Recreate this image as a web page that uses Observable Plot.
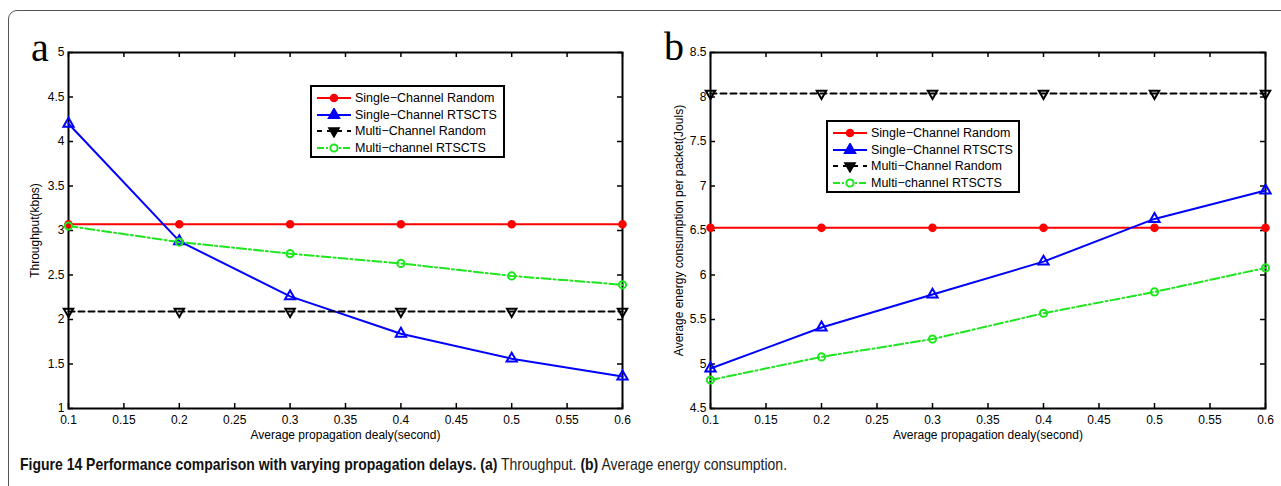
<!DOCTYPE html>
<html>
<head>
<meta charset="utf-8">
<script src="https://cdn.jsdelivr.net/npm/d3@7"></script>
<script src="https://cdn.jsdelivr.net/npm/@observablehq/plot@0.6"></script>
<style>
  html, body { margin: 0; padding: 0; background: #fff; }
  body { width: 1281px; height: 486px; position: relative; overflow: hidden; font-family: "Liberation Sans", Arial, sans-serif; }
  .border { position: absolute; left: 8px; top: 10px; width: 1300px; height: 520px; border: 1px solid #555; border-radius: 9px; box-sizing: border-box; }
  .panel { position: absolute; top: 0; }
  .letter { position: absolute; font-family: "Liberation Serif", "DejaVu Serif", serif; font-size: 40px; line-height: 1; color: #000; }
  .legend { position: absolute; background: #fff; border: 2px solid #000; box-sizing: border-box; }
  .legend .row { position: absolute; left: 4px; height: 16px; display: flex; align-items: center; font-size: 12.5px; white-space: nowrap; color: #000; }
  .legend svg { display: block; margin-right: 3px; }
  .caption { position: absolute; left: 20px; top: 455px; font-family: "Liberation Sans", Arial, sans-serif; font-size: 16.5px; color: #222; white-space: nowrap; transform: scaleX(0.848); transform-origin: 0 50%; }
  .caption b { font-weight: bold; color: #111; }
</style>
</head>
<body>
<div class="border"></div>
<div id="left" class="panel" style="left:0px"></div>
<div id="right" class="panel" style="left:640px"></div>
<div class="letter" style="left:31px; top:28px">a</div>
<div class="letter" style="left:664px; top:27px">b</div>
<div id="legL" class="legend" style="left:310px; top:85px; width:195px; height:73px"></div>
<div id="legR" class="legend" style="left:826px; top:120px; width:194px; height:73px"></div>
<div class="caption"><b>Figure 14 Performance comparison with varying propagation delays. (a)</b> Throughput. <b>(b)</b> Average energy consumption.</div>
<script>
// ---------- data ----------
const delays = [0.1, 0.2, 0.3, 0.4, 0.5, 0.6];
const seriesNames = ["Single−Channel Random", "Single−Channel RTSCTS", "Multi−Channel Random", "Multi−channel RTSCTS"];

// Panel a: Throughput (kbps)
const thrSingleRandom = [3.07, 3.07, 3.07, 3.07, 3.07, 3.07];
const thrSingleRTSCTS = [4.20, 2.88, 2.26, 1.84, 1.56, 1.36];
const thrMultiRandom  = [2.09, 2.09, 2.09, 2.09, 2.09, 2.09];
const thrMultiRTSCTS  = [3.05, 2.87, 2.74, 2.63, 2.49, 2.39];

// Panel b: Average energy consumption per packet (Jouls)
const enSingleRandom = [6.53, 6.53, 6.53, 6.53, 6.53, 6.53];
const enSingleRTSCTS = [4.95, 5.41, 5.78, 6.15, 6.63, 6.95];
const enMultiRandom  = [8.04, 8.04, 8.04, 8.04, 8.04, 8.04];
const enMultiRTSCTS  = [4.82, 5.08, 5.28, 5.57, 5.81, 6.08];

// ticks
const xTicks = [0.1, 0.15, 0.2, 0.25, 0.3, 0.35, 0.4, 0.45, 0.5, 0.55, 0.6];
const xTickLabels = ["0.1", "0.15", "0.2", "0.25", "0.3", "0.35", "0.4", "0.45", "0.5", "0.55", "0.6"];
const yTicksA = [1, 1.5, 2, 2.5, 3, 3.5, 4, 4.5, 5];
const yTickLabelsA = ["1", "1.5", "2", "2.5", "3", "3.5", "4", "4.5", "5"];
const yTicksB = [4.5, 5, 5.5, 6, 6.5, 7, 7.5, 8, 8.5];
const yTickLabelsB = ["4.5", "5", "5.5", "6", "6.5", "7", "7.5", "8", "8.5"];

const xLabel = "Average propagation dealy(second)";
const yLabelA = "Throughput(kbps)";
const yLabelB = "Average energy consumption per packet(Jouls)";

// ---------- styles ----------
const RED = "#ff0000", BLUE = "#0000ff", BLACK = "#000000", GREEN = "#1ee61e";
const downTriangle = {
  draw(context, size) {
    const y = Math.sqrt(size / (Math.sqrt(3) * 3));
    context.moveTo(0, y * 2);
    context.lineTo(-Math.sqrt(3) * y, -y);
    context.lineTo(Math.sqrt(3) * y, -y);
    context.closePath();
  }
};
const styles = [
  {stroke: RED, dash: null, symbol: "circle", fill: RED, legendFill: RED, r: 3.3},
  {stroke: BLUE, dash: null, symbol: "triangle", fill: "none", legendFill: BLUE, r: 3.8},
  {stroke: BLACK, dash: "6,4", symbol: downTriangle, fill: "none", legendFill: BLACK, r: 3.5},
  {stroke: GREEN, dash: "9,3,2,3", symbol: "circle", fill: "none", legendFill: "#fff", r: 3.6}
];

function rows(values, si) {
  return delays.map((x, i) => ({x, y: values[i], s: si}));
}

function makePanel({width, marginLeft, marginRight, series, yDomain, yTicks, yTickLabels, yLabel, yLabelDx}) {
  const height = 448, marginTop = 52, marginBottom = 40;
  const innerH = height - marginTop - marginBottom;
  const innerW = width - marginLeft - marginRight;
  const tickLen = 5;
  const marks = [
    Plot.frame({stroke: "#000", strokeWidth: 2}),
    // inward ticks on all four sides
    Plot.ruleX(xTicks, {x: d => d, insetTop: innerH - tickLen, stroke: "#000", strokeWidth: 1.5}),
    Plot.ruleX(xTicks, {x: d => d, insetBottom: innerH - tickLen, stroke: "#000", strokeWidth: 1.5}),
    Plot.ruleY(yTicks, {y: d => d, insetRight: innerW - tickLen, stroke: "#000", strokeWidth: 1.5}),
    Plot.ruleY(yTicks, {y: d => d, insetLeft: innerW - tickLen, stroke: "#000", strokeWidth: 1.5}),
    Plot.axisX({ticks: xTicks, tickSize: 0, tickPadding: 7, tickFormat: d => xTickLabels[xTicks.indexOf(d)], label: null, fontSize: 12}),
    Plot.axisY({ticks: yTicks, tickSize: 0, tickPadding: 4, tickFormat: d => yTickLabels[yTicks.indexOf(d)], label: null, fontSize: 12}),
    Plot.text([xLabel], {frameAnchor: "bottom", dy: 30, fontSize: 12, fill: "#000"}),
    Plot.text([yLabel], {frameAnchor: "left", textAnchor: "middle", rotate: -90, dx: yLabelDx, fontSize: 12, fill: "#000"})
  ];
  series.forEach((vals, si) => {
    const st = styles[si];
    const data = rows(vals, si);
    marks.push(Plot.line(data, {x: "x", y: "y", stroke: st.stroke, strokeWidth: 2, strokeDasharray: st.dash, curve: "linear"}));
  });
  series.forEach((vals, si) => {
    const st = styles[si];
    const data = rows(vals, si);
    marks.push(Plot.dot(data, {x: "x", y: "y", symbol: () => st.symbol, r: st.r, stroke: st.stroke, strokeWidth: 2, fill: st.fill}));
  });
  return Plot.plot({
    width, height, marginTop, marginBottom, marginLeft, marginRight,
    style: {fontFamily: "'Liberation Sans', Arial, sans-serif", fontSize: "12px", color: "#000", background: "transparent", overflow: "visible"},
    x: {domain: [0.1, 0.6]},
    y: {domain: yDomain},
    symbol: {type: "identity"},
    marks
  });
}

document.getElementById("left").append(makePanel({
  width: 640, marginLeft: 68, marginRight: 18,
  series: [thrSingleRandom, thrSingleRTSCTS, thrMultiRandom, thrMultiRTSCTS],
  yDomain: [1, 5], yTicks: yTicksA, yTickLabels: yTickLabelsA, yLabel: yLabelA, yLabelDx: -33
}));
document.getElementById("right").append(makePanel({
  width: 641, marginLeft: 70, marginRight: 16,
  series: [enSingleRandom, enSingleRTSCTS, enMultiRandom, enMultiRTSCTS],
  yDomain: [4.5, 8.5], yTicks: yTicksB, yTickLabels: yTickLabelsB, yLabel: yLabelB, yLabelDx: -31
}));

// ---------- legends ----------
function buildLegend(el) {
  seriesNames.forEach((name, i) => {
    const st = styles[i];
    const row = document.createElement("div");
    row.className = "row";
    row.style.top = (3 + i * 16.5) + "px";
    const svg = d3.create("svg").attr("width", 36).attr("height", 14);
    svg.append("line").attr("x1", 1).attr("x2", 35).attr("y1", 7).attr("y2", 7)
      .attr("stroke", st.stroke).attr("stroke-width", 2).attr("stroke-dasharray", st.dash === "6,4" ? "5,5" : st.dash === null ? null : "7,2,2,2");
    const sym = typeof st.symbol === "string" ? (st.symbol === "triangle" ? d3.symbolTriangle : d3.symbolCircle) : st.symbol;
    svg.append("path").attr("transform", "translate(18,7)")
      .attr("d", d3.symbol(sym, Math.PI * st.r * st.r)())
      .attr("fill", st.legendFill).attr("stroke", st.stroke).attr("stroke-width", 2);
    row.append(svg.node());
    const span = document.createElement("span");
    span.textContent = name;
    row.append(span);
    el.append(row);
  });
}
buildLegend(document.getElementById("legL"));
buildLegend(document.getElementById("legR"));
</script>
</body>
</html>
